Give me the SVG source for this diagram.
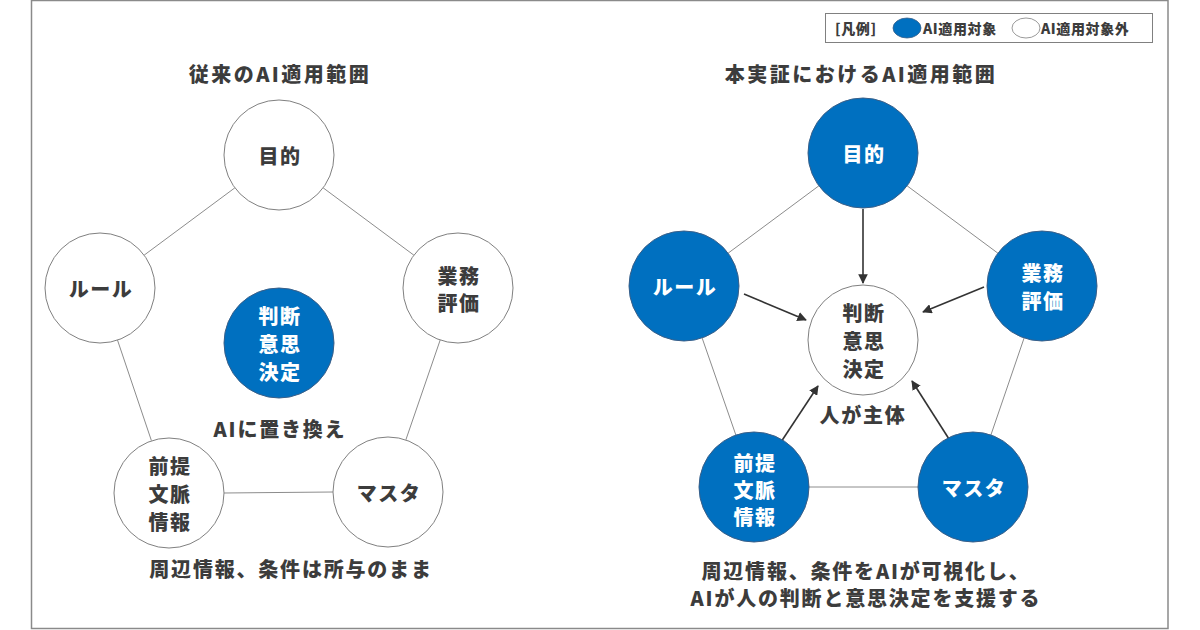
<svg xmlns="http://www.w3.org/2000/svg" width="1200" height="630" viewBox="0 0 1200 630">
<style>
text{font-family:"Noto Sans CJK JP","Noto Sans",sans-serif;font-weight:900;fill:#3c3c3c;text-anchor:middle;dominant-baseline:central}
.n{font-size:20px;letter-spacing:1.5px}
.w{fill:#fff}
.t{font-size:20px;letter-spacing:1.8px}
.tt{font-size:20px;letter-spacing:2.5px}
.lg{font-size:14px;text-anchor:start;letter-spacing:0.6px}
.cw{fill:#fff;stroke:#808080;stroke-width:1}
.cb{fill:#0070C0;stroke:#3a5f88;stroke-width:1}
.ln{stroke:#8c8c8c;stroke-width:1;fill:none}
.ar{stroke:#333;stroke-width:1.6;fill:none;marker-end:url(#ah)}
</style>
<defs>
<marker id="ah" viewBox="0 0 10 10" refX="9" refY="5" markerWidth="6" markerHeight="6" orient="auto" markerUnits="strokeWidth">
<path d="M0,0 L10,5 L0,10 z" fill="#333"/>
</marker>
</defs>
<rect x="0" y="0" width="1200" height="630" fill="#fff"/>
<rect x="31.5" y="0.5" width="1136.5" height="628" fill="none" stroke="#8a8a8a" stroke-width="1.5"/>
<g id="legend">
<rect x="825.5" y="13.5" width="327" height="29" fill="#fff" stroke="#808080" stroke-width="1"/>
<text class="lg" x="835" y="28">[凡例]</text>
<ellipse cx="907" cy="28" rx="14" ry="10" fill="#0070C0" stroke="#3a5f88" stroke-width="0.8"/>
<text class="lg" x="923" y="28">AI適用対象</text>
<ellipse cx="1026" cy="28" rx="14" ry="10" fill="#fff" stroke="#808080" stroke-width="0.8"/>
<text class="lg" x="1041" y="28">AI適用対象外</text>
</g>
<text class="tt" x="280" y="73">従来のAI適用範囲</text>
<text class="tt" x="861" y="73">本実証におけるAI適用範囲</text>
<g id="connectors">
<line class="ln" x1="234.9" y1="187.8" x2="144.1" y2="255.2"/>
<line class="ln" x1="323.1" y1="187.8" x2="413.9" y2="255.2"/>
<line class="ln" x1="117.5" y1="340.1" x2="151.5" y2="440.9"/>
<line class="ln" x1="440.2" y1="340" x2="405.8" y2="440"/>
<line class="ln" x1="224" y1="493" x2="333" y2="492"/>
<line class="ln" x1="818.9" y1="185.8" x2="728.1" y2="253.2"/>
<line class="ln" x1="907.1" y1="185.8" x2="997.9" y2="253.2"/>
<line class="ln" x1="702.1" y1="337.9" x2="735.9" y2="435.1"/>
<line class="ln" x1="1024.1" y1="338" x2="990.9" y2="435"/>
<line class="ln" x1="809" y1="487" x2="918" y2="487"/>
<line class="ar" x1="863" y1="209" x2="863" y2="283"/>
<line class="ar" x1="744" y1="294" x2="806" y2="320"/>
<line class="ar" x1="984" y1="287" x2="923" y2="312"/>
<line class="ar" x1="781" y1="442" x2="818" y2="386"/>
<line class="ar" x1="949" y1="439" x2="912" y2="381"/>
</g>
<g id="L-mokuteki"><circle class="cw" cx="279" cy="155" r="55"/><text class="n" x="280" y="155">目的</text></g>
<g id="L-rule"><circle class="cw" cx="100" cy="288" r="55"/><text class="n" x="101" y="288">ルール</text></g>
<g id="L-gyomu"><circle class="cw" cx="458" cy="288" r="55"/><text class="n" x="459" y="275">業務</text><text class="n" x="459" y="302">評価</text></g>
<g id="L-handan"><circle class="cb" cx="279" cy="343" r="55"/><text class="n w" x="280" y="315">判断</text><text class="n w" x="280" y="343">意思</text><text class="n w" x="280" y="371">決定</text></g>
<g id="L-zentei"><circle class="cw" cx="169" cy="493" r="55"/><text class="n" x="170" y="465">前提</text><text class="n" x="170" y="493">文脈</text><text class="n" x="170" y="521">情報</text></g>
<g id="L-master"><circle class="cw" cx="388" cy="492" r="55"/><text class="n" x="389" y="492">マスタ</text></g>
<text class="t" x="280" y="428">AIに置き換え</text>
<text class="t" x="291" y="568">周辺情報、条件は所与のまま</text>
<g id="R-mokuteki"><circle class="cb" cx="863" cy="153" r="55"/><text class="n w" x="864" y="153">目的</text></g>
<g id="R-rule"><circle class="cb" cx="684" cy="286" r="55"/><text class="n w" x="685" y="286">ルール</text></g>
<g id="R-gyomu"><circle class="cb" cx="1042" cy="286" r="55"/><text class="n w" x="1043" y="272">業務</text><text class="n w" x="1043" y="300">評価</text></g>
<g id="R-handan"><circle class="cw" cx="863" cy="340" r="55"/><text class="n" x="864" y="312">判断</text><text class="n" x="864" y="340">意思</text><text class="n" x="864" y="368">決定</text></g>
<g id="R-zentei"><circle class="cb" cx="754" cy="487" r="55"/><text class="n w" x="755" y="462">前提</text><text class="n w" x="755" y="489">文脈</text><text class="n w" x="755" y="516">情報</text></g>
<g id="R-master"><circle class="cb" cx="973" cy="487" r="55"/><text class="n w" x="974" y="487">マスタ</text></g>
<text class="t" x="863" y="414">人が主体</text>
<text class="t" x="866" y="570">周辺情報、条件をAIが可視化し、</text>
<text class="t" x="866" y="597">AIが人の判断と意思決定を支援する</text>
</svg>
